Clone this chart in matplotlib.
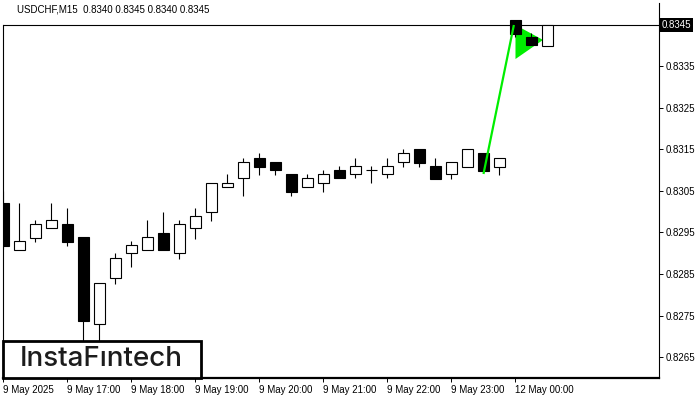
import matplotlib
matplotlib.use('Agg')
import matplotlib.pyplot as plt
import matplotlib.transforms as mtransforms
from matplotlib.patches import Rectangle, Polygon

plt.rcParams['font.family'] = ['Liberation Sans', 'DejaVu Sans']

# M15 candles, USDCHF (index 0 = 9 May 16:00)
opens = [0.83022, 0.82909, 0.82937, 0.82960, 0.82970, 0.82939, 0.82729, 0.82840,
         0.82900, 0.82909, 0.82949, 0.82900, 0.82960, 0.82999, 0.83059, 0.83081,
         0.83129, 0.83119, 0.83090, 0.83059, 0.83069, 0.83100, 0.83090, 0.83100,
         0.83090, 0.83119, 0.83151, 0.83110, 0.83090, 0.83109, 0.83142, 0.83109,
         0.83462, 0.83422, 0.83400]
highs = [0.83050, 0.83022, 0.82980, 0.83022, 0.83009, 0.82939, 0.82828, 0.82901,
         0.82929, 0.82980, 0.82999, 0.82980, 0.83008, 0.83069, 0.83091, 0.83129,
         0.83141, 0.83119, 0.83090, 0.83090, 0.83100, 0.83110, 0.83129, 0.83110,
         0.83129, 0.83151, 0.83151, 0.83130, 0.83119, 0.83151, 0.83142, 0.83130,
         0.83462, 0.83431, 0.83450]
lows = [0.82910, 0.82909, 0.82928, 0.82960, 0.82918, 0.82660, 0.82660, 0.82827,
        0.82868, 0.82909, 0.82909, 0.82887, 0.82934, 0.82978, 0.83059, 0.83039,
        0.83089, 0.83089, 0.83039, 0.83059, 0.83048, 0.83081, 0.83081, 0.83069,
        0.83081, 0.83109, 0.83109, 0.83080, 0.83080, 0.83109, 0.83099, 0.83089,
        0.83420, 0.83401, 0.83400]
closes = [0.82918, 0.82929, 0.82970, 0.82980, 0.82928, 0.82737, 0.82828, 0.82889,
          0.82919, 0.82938, 0.82909, 0.82970, 0.82989, 0.83069, 0.83069, 0.83119,
          0.83109, 0.83100, 0.83048, 0.83081, 0.83090, 0.83081, 0.83110, 0.83100,
          0.83110, 0.83141, 0.83118, 0.83080, 0.83119, 0.83151, 0.83099, 0.83130,
          0.83428, 0.83401, 0.83450]

x_tick_pos = [0, 4, 8, 12, 16, 20, 24, 28, 32]
x_tick_labels = ['9 May 2025', '9 May 17:00', '9 May 18:00', '9 May 19:00', '9 May 20:00',
                 '9 May 21:00', '9 May 22:00', '9 May 23:00', '12 May 00:00']
y_ticks = [0.8265, 0.8275, 0.8285, 0.8295, 0.8305, 0.8315, 0.8325, 0.8335]
last_price = 0.8345

# pattern: flagpole and pennant
pole_x = [30, 31.9]
pole_y = [0.83091, 0.8345]
pennant_x = [32, 32, 33.72]
pennant_y = [0.8345, 0.83368, 0.83414]

fig = plt.figure(figsize=(7, 4), dpi=100)
ax = fig.add_axes([3 / 700, 22 / 400, 656 / 700, 375 / 400])
ax.set_xlim(-0.031, 40.97)
ax.set_ylim(0.825994, 0.83503)

# candles
for i in range(len(opens)):
    o, h, l, c = opens[i], highs[i], lows[i], closes[i]
    ax.vlines(i, l, h, color='black', lw=0.8, zorder=2)
    face = 'white' if c >= o else 'black'
    ax.bar(i, abs(c - o), bottom=min(o, c), width=0.64, color=face,
           edgecolor='black', linewidth=0.8, zorder=3)

ax.add_patch(Polygon(list(zip(pennant_x, pennant_y)), closed=True,
                     facecolor='#00ee00', edgecolor='none', zorder=1))
ax.plot(pole_x, pole_y, color='#00ee00', lw=1.6, zorder=4, solid_capstyle='butt')

ax.axhline(last_price, color='black', lw=0.8, zorder=1.5)

# axes styling
ax.spines['top'].set_visible(False)
ax.spines['left'].set_bounds(0.825994, last_price)
ax.spines['left'].set_linewidth(0.8)
ax.spines['right'].set_linewidth(0.8)
ax.spines['bottom'].set_linewidth(1.6)

ax.yaxis.tick_right()
ax.set_yticks(y_ticks)
ax.set_yticklabels([f'{v:.4f}' for v in y_ticks])
ax.tick_params(axis='y', direction='out', length=3, width=0.7, pad=2, labelsize=7)
ax.set_xticks(x_tick_pos)
ax.set_xticklabels(x_tick_labels)
ax.tick_params(axis='x', direction='out', length=3, width=0.7, pad=2, labelsize=7)
for lbl in ax.get_xticklabels():
    lbl.set_horizontalalignment('left')

trans = mtransforms.blended_transform_factory(ax.transAxes, ax.transData)
ax.text(1.004, last_price, f'{last_price:.4f}', transform=trans, color='white',
        fontsize=7, va='center', ha='left',
        bbox=dict(facecolor='black', edgecolor='none', pad=1.6))

fig.text(17 / 700, 1 - 10 / 400, 'USDCHF,M15  0.8340 0.8345 0.8340 0.8345',
         fontsize=7, va='center', ha='left', color='black')

# logo box
ax.add_patch(Rectangle((0, 0), 198 / 656, 37 / 375, transform=ax.transAxes,
                       facecolor='white', edgecolor='black', linewidth=2,
                       zorder=10, clip_on=False))
ax.text(0.1505, 0.0507, 'InstaFıntech', transform=ax.transAxes, fontsize=20,
        family='Inter', fontweight='medium', color='#1c1c1c',
        ha='center', va='center', zorder=11)

plt.savefig('out.png', dpi=100)
plt.close()
